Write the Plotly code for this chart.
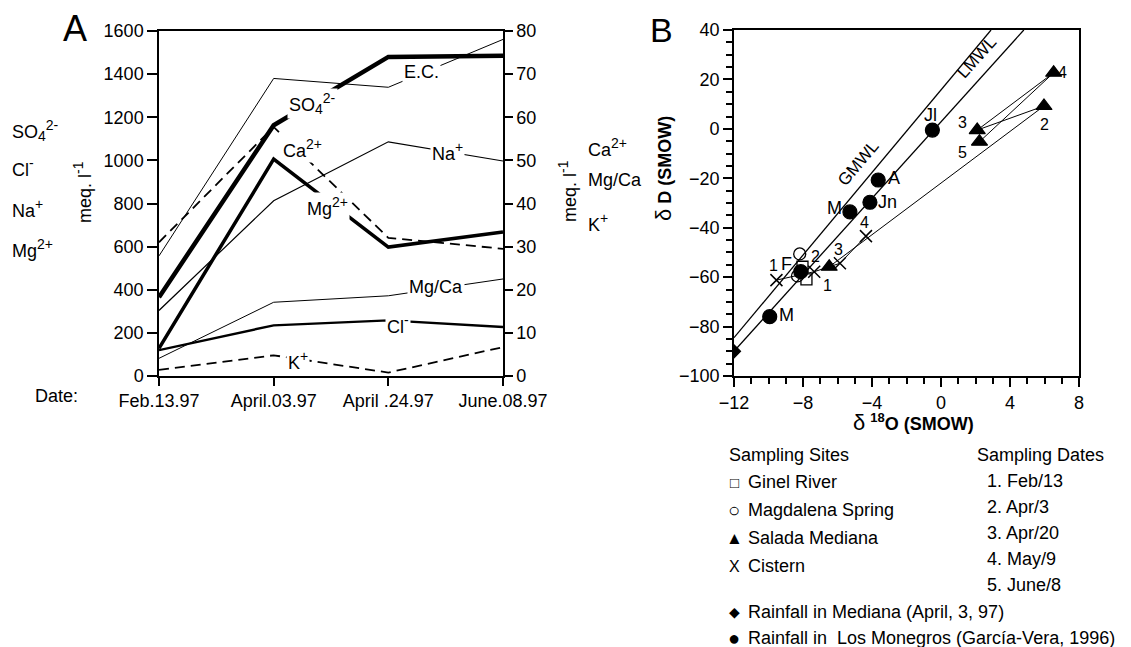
import plotly.graph_objects as go

W, H = 1131, 647
OFF = 8  # page body margin of the browser
FONT = "Liberation Sans, Arial, Helvetica, sans-serif"

# ---------------- Panel A data ----------------
dates = ["Feb.13.97", "April.03.97", "April .24.97", "June.08.97"]
date_idx = [0, 1, 2, 3]
ec = [557, 1380, 1339, 1561]          # left axis
so4 = [365, 1163, 1480, 1485]         # left axis
mg = [620, 1155, 641, 590]            # left axis
na = [304, 813, 1086, 997]            # left axis
cl = [120, 235, 258, 227]             # left axis
ca = [6.4, 50.3, 29.9, 33.4]          # right axis
mgca = [4.1, 17.1, 18.6, 22.5]        # right axis
k = [1.4, 4.8, 0.8, 6.7]              # right axis

# ---------------- Panel B data ----------------
gmwl_x = [-12, 2.9]
gmwl_y = [-84.5, 40]
lmwl_x = [-12, 4.8]
lmwl_y = [-90, 40]
ginel_x = [-8.03, -7.8]
ginel_y = [-55.8, -60.9]
magd_x = [-8.19, -8.32]
magd_y = [-50.6, -59.5]
salada_x = [-6.48, 5.97, 2.1, 6.53, 2.23]
salada_y = [-55.8, 9.25, -0.5, 22.7, -5.2]
salada_lab = ["1", "2", "3", "4", "5"]
cistern_x = [-9.54, -7.35, -5.86, -4.35]
cistern_y = [-61.2, -57.8, -54.4, -43.4]
cistern_lab = ["1", "2", "3", "4"]
rain_med_x = [-12]
rain_med_y = [-90]
monegros_x = [-0.5, -3.64, -4.12, -5.28, -8.13, -9.93]
monegros_y = [-0.5, -20.7, -29.7, -33.6, -57.8, -76]
monegros_lab = ["Jl", "A", "Jn", "M", "F", "M"]

fig = go.Figure()

def line(x, y, width, dash="solid", yaxis="y", xaxis="x"):
    fig.add_trace(go.Scatter(x=x, y=y, mode="lines", xaxis=xaxis, yaxis=yaxis,
                             line=dict(color="black", width=width, dash=dash),
                             showlegend=False, hoverinfo="skip"))

line(date_idx, ec, 1)
line(date_idx, na, 1.2)
line(date_idx, cl, 2.4)
line(date_idx, mg, 1.8, dash="10px,6px")
line(date_idx, so4, 4.5)
line(date_idx, ca, 3.5, yaxis="y2")
line(date_idx, mgca, 1, yaxis="y2")
line(date_idx, k, 1.8, dash="10px,6px", yaxis="y2")

# Panel B
line(gmwl_x, gmwl_y, 1.3, xaxis="x2", yaxis="y3")
line(lmwl_x, lmwl_y, 1.3, xaxis="x2", yaxis="y3")

def pts(x, y, symbol, size, mode="markers", lw=1.2, fill="black"):
    fig.add_trace(go.Scatter(x=x, y=y, mode=mode, xaxis="x2", yaxis="y3",
                             line=dict(color="black", width=1),
                             marker=dict(symbol=symbol, size=size, color=fill,
                                         line=dict(color="black", width=lw)),
                             showlegend=False, hoverinfo="skip"))

pts(salada_x, salada_y, "triangle-up", 14, mode="lines+markers")
pts(cistern_x, cistern_y, "x-thin-open", 12, mode="lines+markers", lw=1.5)
pts(ginel_x, ginel_y, "square-open", 11, lw=1.3)
pts(magd_x, magd_y, "circle-open", 12, lw=1.3)
pts(monegros_x, monegros_y, "circle", 14)
pts(rain_med_x, rain_med_y, "diamond", 10)

annotations = []

def px(x):
    return (x - OFF) / W

def py(y):
    return 1 - (y - OFF) / H

def sup(t, size=14):
    return "<sup><span style='font-size:%dpx'>%s</span></sup>" % (size, t)

def sub(t, size=14):
    return "<sub><span style='font-size:%dpx'>%s</span></sub>" % (size, t)

def ann_px(x, y, text, size=18, xanchor="center", angle=0, **kw):
    annotations.append(dict(x=px(x), y=py(y), xref="paper", yref="paper", text=text,
                            showarrow=False, xanchor=xanchor, yanchor="middle",
                            textangle=angle, font=dict(family=FONT, size=size, color="black"), **kw))

def ann_data(x, y, text, xref, yref, size=18, bg=None):
    d = dict(x=x, y=y, xref=xref, yref=yref, text=text, showarrow=False,
             xanchor="center", yanchor="middle",
             font=dict(family=FONT, size=size, color="black"))
    if bg:
        d.update(bgcolor=bg, borderpad=1)
    annotations.append(d)

SO4 = "SO" + sub("4") + sup("2-")

# Panel A in-plot labels
ann_data(2.29, 1410, "E.C.", "x", "y", bg="white")
ann_data(1.34, 1266, SO4, "x", "y", bg="white")
ann_data(1.25, 1057, "Ca" + sup("2+"), "x", "y", bg="white")
ann_data(2.52, 1039, "Na" + sup("+"), "x", "y", bg="white")
ann_data(1.47, 784, "Mg" + sup("2+"), "x", "y", bg="white")
ann_data(2.42, 413, "Mg/Ca", "x", "y", bg="white")
ann_data(2.08, 241, "Cl" + sup("-"), "x", "y", bg="white")
ann_data(1.21, 70, "K" + sup("+"), "x", "y", bg="white")

# Panel A outer labels
ann_px(75, 28, "A", size=36)
ann_px(10, 130, SO4, xanchor="left")
ann_px(10, 168, "Cl" + sup("-"), xanchor="left")
ann_px(10, 208, "Na" + sup("+"), xanchor="left")
ann_px(10, 248, "Mg" + sup("2+"), xanchor="left")
ann_px(83, 192, "meq. l" + sup("-1"), angle=-90)
ann_px(586, 147, "Ca" + sup("2+"), xanchor="left")
ann_px(586, 180, "Mg/Ca", xanchor="left")
ann_px(586, 222, "K" + sup("+"), xanchor="left")
ann_px(567, 191, "meq. l" + sup("-1"), angle=-90)
ann_px(56, 396, "Date:")

# Panel B labels
ann_px(661, 30, "B", size=34)
ann_px(664, 168, "<span style='font-size:22px'>δ</span> <b>D (SMOW)</b>", angle=-90)
ann_px(913, 422, "<span style='font-size:22px'>δ</span> <b>" + sup("18", 13) + "O (SMOW)</b>")
for t, x, y in zip(monegros_lab, [-0.6, -2.75, -3.1, -6.19, -8.98, -8.98],
                   [5.6, -19.9, -29.6, -32, -54.8, -75.3]):
    ann_data(x, y, t, "x2", "y3")
for t, x, y in zip(salada_lab, [-6.6, 6.02, 1.26, 7.07, 1.26], [-63.2, 1.96, 2.4, 23, -9.4]):
    ann_data(x, y, t, "x2", "y3", size=16)
for t, x, y in zip(cistern_lab, [-9.73, -7.29, -5.95, -4.44], [-55.1, -51.5, -49, -37.7]):
    ann_data(x, y, t, "x2", "y3", size=16)

# line name labels (rotated along lines)
annotations.append(dict(x=-4.8, y=-14.0, xref="x2", yref="y3", text="GMWL", showarrow=False,
                        textangle=-50, font=dict(family=FONT, size=17, color="black")))
annotations.append(dict(x=2.05, y=29, xref="x2", yref="y3", text="LMWL", showarrow=False,
                        textangle=-48, font=dict(family=FONT, size=17, color="black")))

# Legend block
site_names = ["Ginel River", "Magdalena Spring", "Salada Mediana", "Cistern"]
site_glyphs = ["□", "○", "▲", "X"]
site_sizes = [15, 20, 17, 16]
site_rows = [482, 510, 538, 566]
ann_px(727, 455, "Sampling Sites", xanchor="left")
for g, s, n, y in zip(site_glyphs, site_sizes, site_names, site_rows):
    ann_px(734, y, g, size=s)
    ann_px(746, y, n, xanchor="left")
rain_names = ["Rainfall in Mediana (April, 3, 97)", "Rainfall in&nbsp; Los Monegros (García-Vera, 1996)"]
rain_glyphs = ["◆", "●"]
for g, s, n, y in zip(rain_glyphs, [14, 20], rain_names, [612, 638]):
    ann_px(734, y, g, size=s)
    ann_px(746, y, n, xanchor="left")
date_items = ["1. Feb/13", "2. Apr/3", "3. Apr/20", "4. May/9", "5. June/8"]
ann_px(975, 455, "Sampling Dates", xanchor="left")
for i, t in enumerate(date_items):
    ann_px(985, 481 + 26 * i, t, xanchor="left")

tickfont = dict(family=FONT, size=18, color="black")

fig.update_layout(
    width=W, height=H, autosize=False,
    margin=dict(l=0, r=0, t=0, b=0, pad=0, autoexpand=False),
    paper_bgcolor="white", plot_bgcolor="white",
    showlegend=False,
    annotations=annotations,
    xaxis=dict(domain=[px(159), px(503)], anchor="y", range=[0, 3], automargin=False,
               tickvals=date_idx, ticktext=dates, showgrid=False, zeroline=False,
               showline=True, linecolor="black", linewidth=1.5, mirror=True,
               ticks="outside", ticklen=8, tickwidth=1.5, tickcolor="black",
               tickfont=tickfont),
    yaxis=dict(domain=[py(376), py(31)], anchor="x", range=[0, 1600], dtick=200, automargin=False,
               showgrid=False, zeroline=False, showline=True, linecolor="black", linewidth=1.5,
               ticks="outside", ticklen=10, tickwidth=1.5, tickcolor="black", tickfont=tickfont),
    yaxis2=dict(overlaying="y", side="right", anchor="x", range=[0, 80], dtick=10, automargin=False,
                showgrid=False, zeroline=False, showline=True, linecolor="black", linewidth=1.5,
                ticks="outside", ticklen=8, tickwidth=1.5, tickcolor="black", tickfont=tickfont),
    xaxis2=dict(domain=[px(734), px(1079)], anchor="y3", range=[-12, 8], dtick=4, automargin=False,
                showgrid=False, zeroline=False, showline=True, linecolor="black", linewidth=1.8,
                mirror=True, ticks="outside", ticklen=9, tickwidth=1.8, tickcolor="black",
                minor=dict(dtick=1, ticks="outside", ticklen=6, tickwidth=1.5, tickcolor="black"),
                tickfont=tickfont),
    yaxis3=dict(domain=[py(376), py(30)], anchor="x2", range=[-100, 40], dtick=20, automargin=False,
                showgrid=False, zeroline=False, showline=True, linecolor="black", linewidth=1.8,
                mirror=True, ticks="outside", ticklen=9, tickwidth=1.8, tickcolor="black",
                minor=dict(dtick=5, ticks="outside", ticklen=6, tickwidth=1.5, tickcolor="black"),
                tickfont=tickfont),
)

fig.write_html("out.html")
